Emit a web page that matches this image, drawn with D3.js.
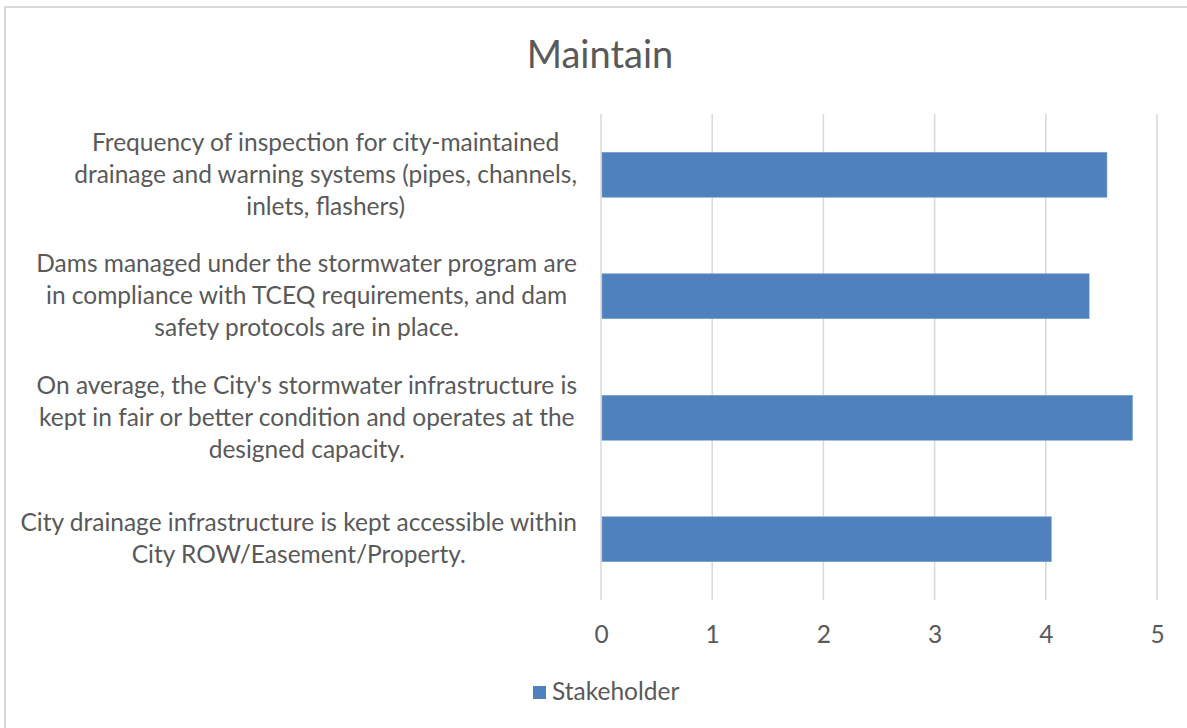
<!DOCTYPE html>
<html>
<head>
<meta charset="utf-8">
<script src="https://cdn.jsdelivr.net/npm/d3@7"></script>
<style>
  body { margin: 0; background: #fff; }
  svg { display: block; font-family: Lato, "Open Sans", sans-serif; }
</style>
</head>
<body>
<svg id="chart" width="1187" height="728"></svg>
<script>
// chart data, top row first
const title = "Maintain";
const seriesName = "Stakeholder";
const categories = [
  "Frequency of inspection for city-maintained\ndrainage and warning systems (pipes, channels,\ninlets, flashers)",
  "Dams managed under the stormwater program are\nin compliance with TCEQ requirements, and dam\nsafety protocols are in place.",
  "On average, the City's stormwater infrastructure is\nkept in fair or better condition and operates at the\ndesigned capacity.",
  "City drainage infrastructure is kept accessible within\nCity ROW/Easement/Property."
];
const values = [4.55, 4.39, 4.78, 4.05];
const ticks = [0, 1, 2, 3, 4, 5];

const textColor = "#595959";
const gridColor = "#d9d9d9";
const barColor = "#4f81bd";
const fontSize = "24.5px";

const svg = d3.select("#chart");
const plot = { left: 601, right: 1157, top: 114, bottom: 600 };

// chart area border (only top/left visible in reference)
svg.append("rect")
  .attr("x", 5).attr("y", 7)
  .attr("width", 1200).attr("height", 740)
  .attr("fill", "none")
  .attr("stroke", gridColor)
  .attr("stroke-width", 2);

const x = d3.scaleLinear().domain([0, 5]).range([plot.left, plot.right]);
const y = d3.scaleBand()
  .domain(categories)
  .range([plot.top, plot.bottom])
  .paddingInner(0.63)
  .paddingOuter(0.315);

// title
svg.append("text")
  .attr("x", 600).attr("y", 68)
  .attr("text-anchor", "middle")
  .attr("fill", textColor)
  .style("font-size", "38px")
  .text(title);

// vertical gridlines
svg.append("g")
  .selectAll("line")
  .data(ticks)
  .join("line")
  .attr("x1", d => x(d)).attr("x2", d => x(d))
  .attr("y1", plot.top).attr("y2", plot.bottom)
  .attr("stroke", gridColor)
  .attr("stroke-width", 1.5);

// bars
svg.append("g")
  .selectAll("rect")
  .data(values)
  .join("rect")
  .attr("x", x(0) + 1)
  .attr("y", (d, i) => y(categories[i]))
  .attr("width", d => x(d) - x(0) - 1)
  .attr("height", y.bandwidth())
  .attr("fill", barColor)
  .attr("stroke", "#7fa3d0")
  .attr("stroke-width", 0.6);

// x axis labels
const xAxis = d3.axisBottom(x).tickValues(ticks).tickFormat(d3.format("d")).tickSize(0).tickPadding(0);
const ax = svg.append("g")
  .attr("transform", `translate(0,${plot.bottom + 26})`)
  .call(xAxis);
ax.select(".domain").remove();
ax.selectAll("text")
  .attr("fill", textColor)
  .style("font-family", "Lato, 'Open Sans', sans-serif")
  .style("font-size", fontSize);

// category labels: lines centred, block right-aligned near the axis
const labelRight = 577;
const lineH = 32;
categories.forEach(cat => {
  const lines = cat.split("\n");
  const g = svg.append("g");
  const cy = y(cat) + y.bandwidth() / 2;
  const t = g.append("text")
    .attr("text-anchor", "middle")
    .attr("fill", textColor)
    .style("font-size", fontSize);
  lines.forEach((ln, i) => {
    t.append("tspan")
      .attr("x", 0)
      .attr("y", cy + (i - (lines.length - 1) / 2) * lineH + 8)
      .text(ln);
  });
  const w = d3.max(t.selectAll("tspan").nodes(), n => n.getComputedTextLength());
  g.attr("transform", `translate(${labelRight - w / 2},0)`);
});

// legend
const legend = svg.append("g");
legend.append("rect")
  .attr("x", 533).attr("y", 686)
  .attr("width", 13).attr("height", 13)
  .attr("fill", barColor);
legend.append("text")
  .attr("x", 552).attr("y", 700)
  .attr("fill", textColor)
  .style("font-size", fontSize)
  .text(seriesName);
</script>
</body>
</html>
